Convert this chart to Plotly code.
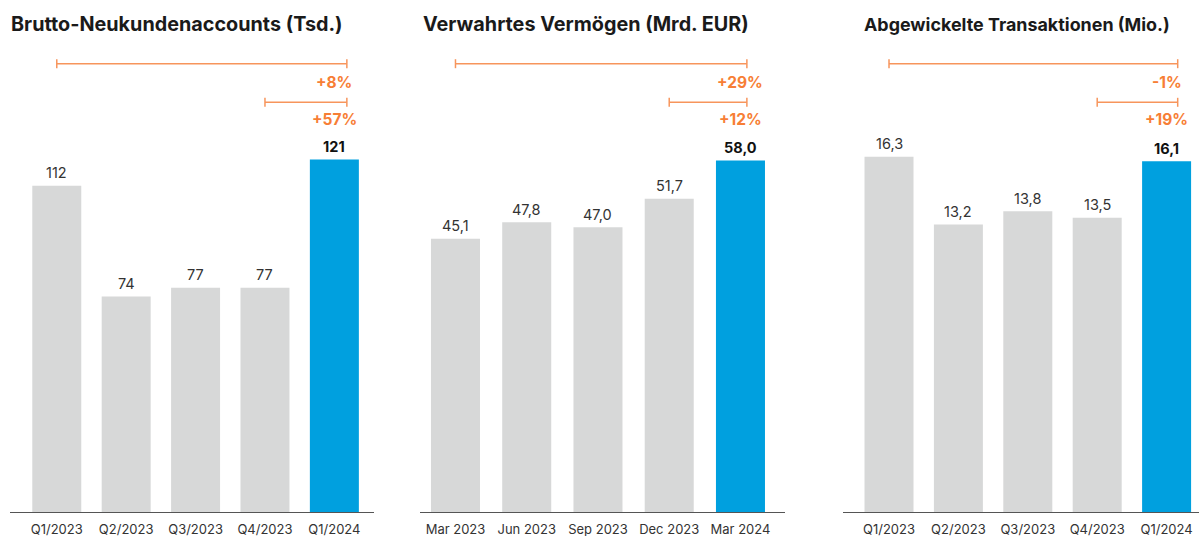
import plotly.graph_objects as go

# ---- data ----
quarters = ["Q1/2023", "Q2/2023", "Q3/2023", "Q4/2023", "Q1/2024"]
months = ["Mar 2023", "Jun 2023", "Sep 2023", "Dec 2023", "Mar 2024"]
accounts = [112, 74, 77, 77, 121]
assets = [45.1, 47.8, 47.0, 51.7, 58.0]
transactions = [16.3, 13.2, 13.8, 13.5, 16.1]
titles = ["Brutto-Neukundenaccounts (Tsd.)", "Verwahrtes Vermögen (Mrd. EUR)",
          "Abgewickelte Transaktionen (Mio.)"]
pct_yoy = ["+8%", "+29%", "-1%"]
pct_qoq = ["+57%", "+12%", "+19%"]
decimals = [0, 1, 1]

# ---- styles ----
GRAY = "#D7D8D8"
BLUE = "#00A0DF"
ORANGE_TXT = "#F77E35"
ORANGE_LINE = "#F7955C"
FONT = "Inter"
H = 512.0  # plot height in px

panels = [
    dict(cats=quarters, vals=accounts, dom=(10, 374), rng=(-0.674, 4.571), yr=175.8,
         w=0.706, title_x=9, title_size=19.8, end_off=0.18),
    dict(cats=months, vals=assets, dom=(420, 785), rng=(-0.498, 4.625), yr=84.5,
         w=0.688, title_x=421, title_size=19.8, end_off=0.09),
    dict(cats=quarters, vals=transactions, dom=(843, 1199), rng=(-0.663, 4.467), yr=23.5,
         w=0.706, title_x=862, title_size=17.9, end_off=0.16),
]

fig = go.Figure()
annotations = []
shapes = []


def py(px):
    return 1 - px / H


for i, p in enumerate(panels):
    n = "" if i == 0 else str(i + 1)
    xa = "x" + n
    ya = "y" + n
    colors = [GRAY] * (len(p["vals"]) - 1) + [BLUE]
    fig.add_trace(go.Bar(x=p["cats"], y=p["vals"], marker=dict(color=colors, line=dict(width=0)),
                         width=p["w"], xaxis=xa, yaxis=ya, showlegend=False, hoverinfo="x+y"))
    fig.layout["xaxis" + n] = dict(domain=[p["dom"][0] / 1199, p["dom"][1] / 1199], range=list(p["rng"]),
                                   type="category", anchor=ya, showline=True, linecolor="#555555",
                                   linewidth=1, ticks="", showgrid=False, zeroline=False,
                                   ticklabelstandoff=5,
                                   tickfont=dict(family=FONT, size=13, color="#333333"), fixedrange=True)
    fig.layout["yaxis" + n] = dict(domain=[0, 1], range=[0, p["yr"]], anchor=xa, visible=False,
                                   showgrid=False, zeroline=False, fixedrange=True)
    # value labels
    for j, (c, v) in enumerate(zip(p["cats"], p["vals"])):
        txt = f"{v:.{decimals[i]}f}".replace(".", ",")
        last = j == len(p["vals"]) - 1
        annotations.append(dict(x=c, y=v, xref=xa, yref=ya, text=f"<b>{txt}</b>" if last else txt,
                                showarrow=False, yanchor="middle", yshift=13,
                                font=dict(family=FONT, size=14.5, color="#111111" if last else "#333333")))
    # title
    annotations.append(dict(x=p["title_x"] / 1199, y=py(24), xref="paper", yref="paper",
                            text=f"<b>{titles[i]}</b>", showarrow=False, xanchor="left", yanchor="middle",
                            font=dict(family=FONT, size=p["title_size"], color="#1a1a1a")))
    # brackets
    end = len(p["vals"]) - 1 + p["end_off"]
    for start, yl, lab, ylab in [(0, 63.7, pct_yoy[i], 82.7), (3, 102.3, pct_qoq[i], 119.3)]:
        shapes.append(dict(type="line", xref=xa, yref="paper", x0=start, x1=end, y0=py(yl), y1=py(yl),
                           line=dict(color=ORANGE_LINE, width=1.5)))
        for xx in (start, end):
            shapes.append(dict(type="line", xref=xa, yref="paper", x0=xx, x1=xx,
                               y0=py(yl - 4.5), y1=py(yl + 4.5), line=dict(color=ORANGE_LINE, width=1.5)))
        annotations.append(dict(x=len(p["vals"]) - 1, y=py(ylab), xref=xa, yref="paper",
                                text=f"<b>{lab}</b>", showarrow=False, yanchor="middle",
                                font=dict(family=FONT, size=15.5, color=ORANGE_TXT)))

fig.update_layout(width=1199, height=536, margin=dict(l=0, r=0, t=0, b=24),
                  paper_bgcolor="white", plot_bgcolor="white",
                  annotations=annotations, shapes=shapes, barmode="overlay")

fig.write_html("out.html", config={"displayModeBar": False},
               post_script="document.body.style.margin='0';document.body.style.padding='0';"
                           "document.body.style.overflow='hidden';")
